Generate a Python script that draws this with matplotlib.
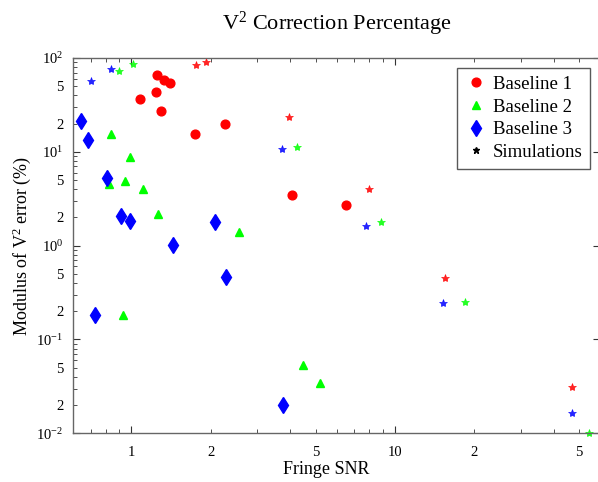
import matplotlib.pyplot as plt
from matplotlib.lines import Line2D
from matplotlib.ticker import FixedLocator, FixedFormatter

plt.rcParams.update({
    "font.family": "Liberation Serif",
    "mathtext.fontset": "custom",
    "mathtext.rm": "Liberation Serif",
    "mathtext.it": "Liberation Serif:italic",
    "font.size": 11,
})

# measured points (Fringe SNR, |V^2 error| in %)
b1_snr = [1.245, 1.327, 1.398, 1.237, 1.082, 1.296, 1.74, 2.27, 4.07, 6.53]
b1_err = [65.6, 58.4, 53.9, 43.2, 36.9, 27.1, 15.5, 19.8, 3.45, 2.72]

b2_snr = [0.834, 0.985, 0.820, 0.949, 1.107, 1.266, 2.55, 0.932, 4.46, 5.18]
b2_err = [15.4, 8.89, 4.55, 4.86, 3.99, 2.16, 1.41, 0.182, 0.0531, 0.0341]

b3_snr = [0.642, 0.687, 0.811, 0.913, 0.985, 1.44, 2.08, 2.28, 3.77, 0.73]
b3_err = [21.5, 13.5, 5.27, 2.09, 1.83, 1.01, 1.78, 0.467, 0.020, 0.181]

# simulations, one set per baseline
sim1_snr = [1.76, 1.92, 3.96, 7.94, 15.5, 47.1]
sim1_err = [85.0, 90.2, 23.6, 3.99, 0.449, 0.0312]
sim2_snr = [0.90, 1.018, 4.26, 8.87, 18.5, 54.5]
sim2_err = [72.3, 85.9, 11.2, 1.80, 0.249, 0.0101]
sim3_snr = [0.705, 0.834, 3.72, 7.76, 15.2, 46.9]
sim3_err = [57.4, 76.0, 10.8, 1.63, 0.247, 0.0166]

legend_labels = ["Baseline 1", "Baseline 2", "Baseline 3", "Simulations"]

fig = plt.figure(figsize=(5.98, 4.82), dpi=100)
ax = fig.add_axes([73 / 598, 1 - 433.3 / 482, 527 / 598, 375.3 / 482])

ax.set_xscale('log')
ax.set_yscale('log')
ax.set_xlim(0.6, 60)
ax.set_ylim(0.01, 100)

red, green, blue = '#ff0000', '#00ff00', '#0000ff'

ax.plot(sim1_snr, sim1_err, '*', color=red, ms=6, mew=0.5, alpha=0.85, clip_on=False)
ax.plot(sim2_snr, sim2_err, '*', color=green, ms=6, mew=0.5, alpha=0.85, clip_on=False)
ax.plot(sim3_snr, sim3_err, '*', color=blue, ms=6, mew=0.5, alpha=0.85, clip_on=False)

ax.plot(b1_snr, b1_err, 'o', color=red, ms=6.3, mec=red)
ax.plot(b2_snr, b2_err, '^', color=green, ms=6.3, mec=green)
ax.plot(b3_snr, b3_err, 'd', color=blue, ms=8.5, mec=blue)

# axis ticks, matlab style
ax.xaxis.set_major_locator(FixedLocator([1, 10]))
ax.xaxis.set_major_formatter(FixedFormatter(['1', '10']))
xminor = [0.6, 0.7, 0.8, 0.9] + [k for k in range(2, 10)] + [k * 10 for k in range(2, 7)]
ax.xaxis.set_minor_locator(FixedLocator(xminor))
ax.xaxis.set_minor_formatter(FixedFormatter(
    ['2' if v in (2, 20) else '5' if v in (5, 50) else '' for v in xminor]))

ydec = [0.01, 0.1, 1, 10, 100]
ax.yaxis.set_major_locator(FixedLocator(ydec))
ax.yaxis.set_major_formatter(FixedFormatter(
    [r'$10^{-2}$', r'$10^{-1}$', r'$10^{0}$', r'$10^{1}$', r'$10^{2}$']))
yminor = [m * d for d in ydec[:-1] for m in range(2, 10)]
ylab = []
for d in ydec[:-1]:
    for m in range(2, 10):
        ylab.append(str(m) if m in (2, 5) else '')
ax.yaxis.set_minor_locator(FixedLocator(yminor))
ax.yaxis.set_minor_formatter(FixedFormatter(ylab))

ax.tick_params(which='both', direction='in', top=True, right=True,
               labelsize=10.5, color='0.2')
ax.tick_params(axis='x', which='both', pad=9)
ax.tick_params(axis='y', which='both', pad=7)
ax.tick_params(which='major', length=5)
ax.tick_params(which='minor', length=3, right=False)

for s in ['left', 'bottom', 'top']:
    ax.spines[s].set_color('0.4')
    ax.spines[s].set_linewidth(1.0)
ax.spines['right'].set_linestyle(':')
ax.spines['right'].set_color('0.75')

ax.set_title(r'V$^2$ Correction Percentage', fontsize=16, pad=20)
ax.set_xlabel('Fringe SNR', fontsize=13)
ax.xaxis.set_label_coords(0.481, -0.075)
ax.set_ylabel(r'Modulus of V$^2$ error (%)', fontsize=13, labelpad=2)

handles = [
    Line2D([], [], ls='none', marker='o', color=red, ms=6.3),
    Line2D([], [], ls='none', marker='^', color=green, ms=6),
    Line2D([], [], ls='none', marker='d', color=blue, ms=8),
    Line2D([], [], ls='none', marker='*', color='black', ms=5),
]
leg = ax.legend(handles, legend_labels, loc='upper right', fontsize=13.5,
                bbox_to_anchor=(0.981, 0.973), borderaxespad=0,
                fancybox=False, framealpha=1,
                handletextpad=0.3, handlelength=1.2, borderpad=0.4,
                labelspacing=0.3)
leg.get_frame().set_edgecolor('0.35')
leg.get_frame().set_linewidth(1.0)

fig.savefig('out.png', dpi=100)
